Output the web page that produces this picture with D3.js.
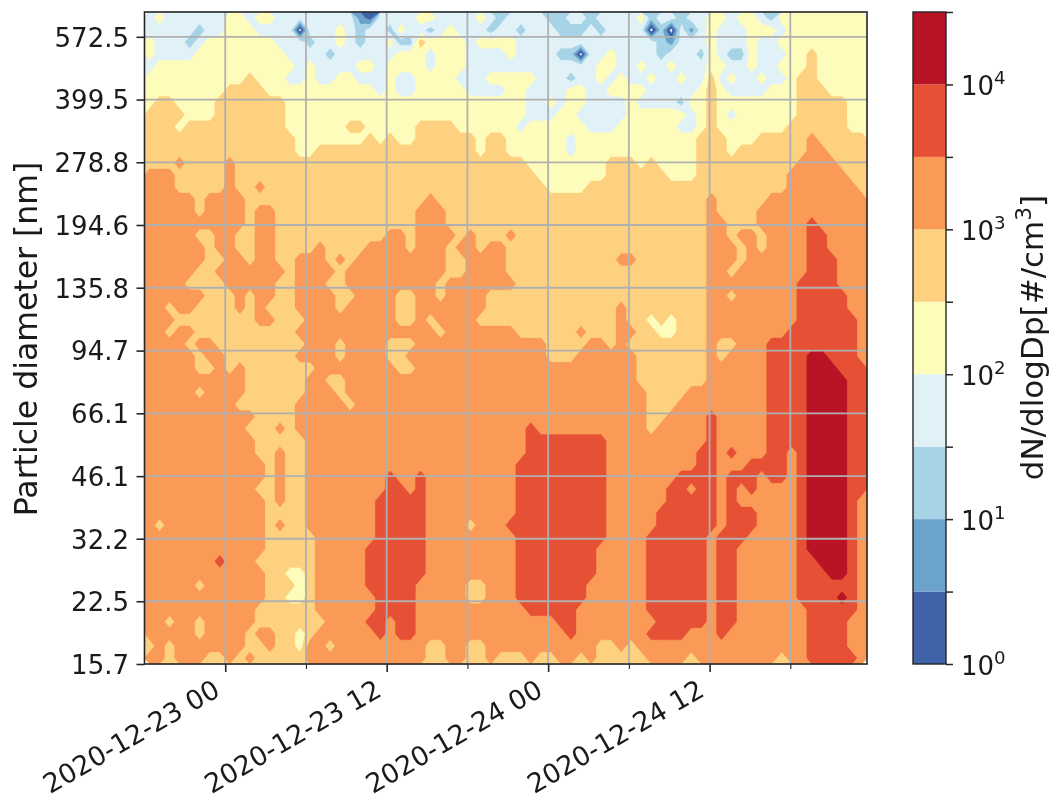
<!DOCTYPE html>
<html><head><meta charset="utf-8">
<script src="https://cdn.jsdelivr.net/npm/d3@7"></script>
<style>
html,body{margin:0;padding:0;background:#fff}
svg{display:block;filter:blur(0.35px)}
text{font-family:"DejaVu Sans",sans-serif;fill:#1a1a1a}
</style></head><body>
<svg id="c" width="1051" height="800"></svg>
<script>
const diameterTicks = [15.7,22.5,32.2,46.1,66.1,94.7,135.8,194.6,278.8,399.5,572.5];
const timeMajor = ["2020-12-23T00:00Z","2020-12-23T12:00Z","2020-12-24T00:00Z","2020-12-24T12:00Z"];
const timeMinor = ["2020-12-23T06:00Z","2020-12-23T18:00Z","2020-12-24T06:00Z","2020-12-24T18:00Z"];
const timeLabels = ["2020-12-23 00","2020-12-23 12","2020-12-24 00","2020-12-24 12"];
const timeSpan = ["2020-12-22T18:00Z","2020-12-24T23:42Z"];
const diameterSpan = [15.7,660];
const levelExponents = [0,0.5,1,1.5,2,2.5,3,3.5,4,4.5];
const cbarTickExponents = [0,1,2,3,4];
const bandColors = ["#3f62a9","#6ca3cc","#a7d3e6","#e0f2f8","#fefcba","#fdd17f","#fb9a57","#e65035","#b91326"];
// Band per time step (columns) and size bin (rows, top = largest); 0 is below 1, 9 is above 10^4
const bandRows = [
"45444444 55455444 44444214 44455444 45434444 33443444 45344344 55455435 55555555",
"44444344 55544440 44454344 35443454 44344344 43334344 44030424 54445554 55555555",
"54443455 55555444 34454344 53365555 45555444 44444444 44432444 54445445 55555555",
"54444555 55555544 44344444 45554555 44445444 43304454 44434443 54335444 55655555",
"45555555 55555554 54444554 55554555 44444444 44444554 45445444 55445445 55655555",
"55555555 55655544 54455444 54455554 44555554 44344545 44544544 64544544 56655555",
"55555555 66665555 55555554 54455555 44445544 44554455 55444445 65444455 56665555",
"56655556 66666655 55555555 55555555 55555544 54554444 54444355 65555555 56666655",
"66665556 66666655 55555555 55555555 55555544 45544444 55555545 65455555 56666655",
"66656666 66666655 55556655 55566665 55555455 55554445 55555445 65555555 66666655",
"66666666 66666665 55555565 65566666 65665555 55455555 55555556 66555666 66766666",
"66666666 66666665 56666666 66666666 65665555 55455555 55555556 66566666 66776666",
"66676666 76666666 66666666 66666666 66666655 55555566 65655556 66666666 67777666",
"77766666 76666666 66666666 66666666 66666665 55555566 66665556 66666666 77777766",
"77766666 76676666 66666666 66666666 66666666 55556666 66666666 66666666 77777776",
"77777677 77666666 66666666 66667666 66666666 66666666 66666666 76666677 77777777",
"77777677 77677666 66666666 66677766 66666666 66666666 66666666 76666777 77777777",
"77777777 77677666 66666666 66677766 66666666 66666666 66666666 77666777 77877777",
"77777667 76677666 66666666 77677776 76667666 66666666 66666666 77677677 77887777",
"77777767 76677666 67666677 77677767 76776666 66666666 66666666 77767677 77887777",
"77777766 77677667 77676777 77777766 77776666 66666667 76666666 77767777 77888777",
"77777667 77777767 77767777 77777766 77776666 66666666 66666666 77677777 77888777",
"77776666 77777667 77667777 77777677 77777666 66666666 66666666 77777777 78888777",
"77777766 67677667 77766777 76677677 77666666 66666666 66666666 77677777 78888877",
"77677666 67676667 77767777 76677777 77666666 66666667 66666666 77777777 78888877",
"77766666 66677666 77777777 76676777 76666666 66666667 66565666 77777777 78888887",
"77677666 66666667 77777777 77777677 77777666 66676667 76655666 77777777 88888887",
"77776776 66666666 77767777 66677777 77777777 66667767 66666666 76677788 88888887",
"77777677 66666667 77767777 66777777 77777777 66677777 76666666 76777788 88998887",
"77777667 67666666 67777777 76677777 77777777 77777777 76666666 77777788 88999888",
"77777777 77666666 77667777 77777777 77777777 77777777 76666666 77777788 88999988",
"77777677 77666666 77767777 77777777 77777777 77777777 77666677 77777788 88999988",
"77777777 76666667 77776777 77777777 77777777 77777777 77666777 77777788 88999988",
"77777777 77766667 77777777 77777777 77777777 77777777 77667777 87777788 88999988",
"77777777 77666767 77777777 77777777 77777787 77777777 77677777 87777788 88999988",
"77777777 77766666 77777777 77777777 77777788 88888877 77777777 87777788 88999988",
"77777777 77766766 77777777 77777777 77777788 88888877 77777778 87877788 78999988",
"77777777 77776766 77777777 77777777 77777888 88888877 77777778 87778888 78999988",
"77777777 77776766 77777777 87787777 77777888 88888877 77777888 87888788 78999988",
"77777777 77766766 77777777 88787777 77777888 88888877 77778878 87878777 78999988",
"77777777 77776766 77777778 88887777 77777888 88888877 77778888 87877777 78999987",
"77777777 77776666 77777778 88887777 77777888 88888877 77788888 87888777 78999987",
"76777777 77776766 77777778 88887777 67778888 88888877 77788888 87888777 78999987",
"77777777 77776666 67777778 88887777 77777888 88888877 77888888 78887777 78999987",
"77777777 77776666 67777788 88887777 77777888 88888777 77888888 78877777 78999987",
"77777778 77766666 67777788 88887777 77777888 88888777 77888888 78877777 78899987",
"77777777 77776655 67777788 88887777 77777888 88888777 77888888 78877777 78889987",
"77777677 77776665 67777788 88877777 66777888 88887777 77888888 78877777 78888887",
"77777777 77776655 67777778 88877777 66777888 88887777 77888888 78877777 78888987",
"77777777 77766666 67777778 88877777 77777788 88877777 77888888 78877777 77888887",
"77677677 77766666 66777788 78877777 77777777 78877777 77788888 78877777 77888877",
"77777677 77677665 67777778 78877777 77777777 77877777 77888877 78777777 77888877",
"67677777 77667665 77677777 77776677 66777777 77777667 67777777 77777777 77888877",
"77677766 76766666 77777777 77776677 66766676 67767666 66777767 77777776 77888887"
];

const plot = {left:144.5,right:867,top:12,bottom:664};
const cbar = {left:913,right:946};
const svg = d3.select("#c");

const x = d3.scaleUtc().domain(timeSpan.map(d=>new Date(d))).range([plot.left,plot.right]);
const y = d3.scaleLog().domain(diameterSpan).range([plot.bottom,plot.top]);

const rows = bandRows.map(r=>r.replace(/ /g,"").split("").map(Number));
const ny = rows.length, nx = rows[0].length;
const gridValues = [];
rows.forEach(r=>{ for(let i=0;i<nx;i++) gridValues.push(((r[i]??r[r.length-1])-1)/2+0.25); });

const colX = d3.scaleLinear().domain([0,nx]).range(x.domain().map(Number));
const rowY = d3.scaleLinear().domain([0,ny]).range(diameterSpan.slice().reverse().map(Math.log10));
const project = d3.geoTransform({point(px,py){ this.stream.point(x(colX(px)), y(Math.pow(10,rowY(py)))); }});
const path = d3.geoPath(project);

const contours = d3.contours().size([nx,ny]).smooth(true).thresholds(levelExponents.slice(0,-1))(gridValues);
svg.append("g").selectAll("path").data(contours).join("path")
  .attr("d",path).attr("fill",(d,i)=>bandColors[i]).attr("stroke",(d,i)=>bandColors[i]).attr("stroke-width",0.3);

// grid
const g = svg.append("g").attr("stroke","#b0b0b0").attr("stroke-width",1.8);
g.selectAll("line.v").data(timeMajor.concat(timeMinor)).join("line").attr("class","v")
  .attr("x1",d=>x(new Date(d))).attr("x2",d=>x(new Date(d))).attr("y1",plot.top).attr("y2",plot.bottom);
g.selectAll("line.h").data(diameterTicks.slice(1)).join("line").attr("class","h")
  .attr("x1",plot.left).attr("x2",plot.right).attr("y1",d=>y(d)).attr("y2",d=>y(d));

// axes
const fs = 26, fsX = 26.8, fsLabel = 31;
const ax = svg.append("g").attr("transform",`translate(0,${plot.bottom})`)
  .call(d3.axisBottom(x).tickValues(timeMajor.map(d=>new Date(d))).tickSize(8).tickFormat((d,i)=>timeLabels[i]));
ax.select(".domain").remove();
ax.selectAll("line").attr("stroke","#262626").attr("stroke-width",1.6);
ax.selectAll("text").attr("font-size",fsX).attr("text-anchor","end").attr("dx",0).attr("dy",0).attr("x",0).attr("y",0)
  .attr("transform","translate(-4,31) rotate(-30)").attr("fill","#1a1a1a");
const axm = svg.append("g").attr("transform",`translate(0,${plot.bottom})`)
  .call(d3.axisBottom(x).tickValues(timeMinor.map(d=>new Date(d))).tickSize(5).tickFormat(""));
axm.select(".domain").remove();
axm.selectAll("line").attr("stroke","#262626").attr("stroke-width",1.1);

const ay = svg.append("g").attr("transform",`translate(${plot.left},0)`)
  .call(d3.axisLeft(y).tickValues(diameterTicks).tickSize(8).tickFormat(d=>d.toFixed(1)));
ay.select(".domain").remove();
ay.selectAll("line").attr("stroke","#262626").attr("stroke-width",1.6);
ay.selectAll("text").attr("font-size",fs).attr("x",-15.5).attr("dy","0.36em").attr("fill","#1a1a1a");

svg.append("rect").attr("x",plot.left).attr("y",plot.top).attr("width",plot.right-plot.left).attr("height",plot.bottom-plot.top)
  .attr("fill","none").attr("stroke","#262626").attr("stroke-width",1.6);

svg.append("text").attr("transform",`translate(37,${(163+515)/2}) rotate(-90)`).attr("text-anchor","middle")
  .attr("font-size",31.5).text("Particle diameter [nm]");

// colour bar
const c = d3.scaleLog().domain([1,Math.pow(10,4.5)]).range([plot.bottom,plot.top]);
svg.append("g").selectAll("rect").data(bandColors).join("rect")
  .attr("x",cbar.left).attr("width",cbar.right-cbar.left)
  .attr("y",(d,i)=>c(Math.pow(10,levelExponents[i+1])))
  .attr("height",(d,i)=>c(Math.pow(10,levelExponents[i]))-c(Math.pow(10,levelExponents[i+1])))
  .attr("fill",d=>d);
svg.append("rect").attr("x",cbar.left).attr("y",plot.top).attr("width",cbar.right-cbar.left).attr("height",plot.bottom-plot.top)
  .attr("fill","none").attr("stroke","#262626").attr("stroke-width",1.4);
const ac = svg.append("g").attr("transform",`translate(${cbar.right},0)`)
  .call(d3.axisRight(c).tickValues(levelExponents.map(e=>Math.pow(10,e))).tickSize(7).tickFormat(""));
ac.select(".domain").remove();
ac.selectAll("line").attr("stroke","#262626").attr("stroke-width",1.5);
const lab = svg.append("g").selectAll("text").data(cbarTickExponents).join("text")
  .attr("x",961).attr("y",e=>c(Math.pow(10,e))+10.6).attr("font-size",fs);
lab.append("tspan").text("10");
lab.append("tspan").attr("font-size",fs*0.7).attr("dy",-11).text(e=>e);

const cl = svg.append("text").attr("transform",`translate(1043,${(195+480)/2}) rotate(-90)`).attr("text-anchor","middle").attr("font-size",fsLabel);
cl.append("tspan").text("dN/dlogDp[#/cm");
cl.append("tspan").attr("font-size",fsLabel*0.7).attr("dy",-12).text("3");
cl.append("tspan").attr("dy",12).text("]");
</script>
</body></html>
